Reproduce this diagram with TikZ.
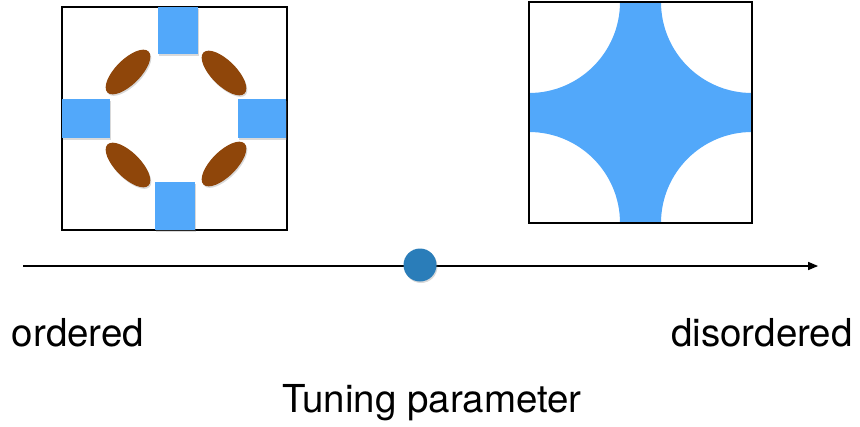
\documentclass[tikz,border=0pt]{standalone}
\usepackage{fontspec}
\setmainfont{TeX Gyre Heros}
\usepackage{tikz}
\usetikzlibrary{arrows,shapes.geometric,shadows}

\definecolor{siteblue}{RGB}{82,168,250}
\definecolor{lobebrown}{RGB}{143,70,10}
\definecolor{dotblue}{RGB}{42,125,185}

\begin{document}
\begin{tikzpicture}[x=1pt,y=-1pt,>=triangle 45,
  frame/.style={draw=black,line width=1.6pt},
  soft/.style={drop shadow={opacity=0.3,shadow xshift=1pt,shadow yshift=-1.5pt}},
  site/.style={rectangle,fill=siteblue,inner sep=0pt,soft},
  lobe/.style={ellipse,fill=lobebrown,inner sep=0pt,minimum width=58pt,minimum height=25pt,soft},
  label/.style={font=\fontsize{38.5}{40}\selectfont,anchor=base,inner sep=0pt}]
  \useasboundingbox (0,0) rectangle (860,426);

  % ordered phase: sites and orbitals around a plaquette
  \draw[frame] (62,7) rectangle (287,230);
  \node[site,minimum width=40pt,minimum height=47pt] (s_top) at (178,30.5) {};
  \node[site,minimum width=40pt,minimum height=48pt] (s_bot) at (175,206) {};
  \node[site,minimum width=48pt,minimum height=39pt] (s_left) at (86,118.5) {};
  \node[site,minimum width=48pt,minimum height=39pt] (s_right) at (262,118.5) {};
  \node[lobe,rotate=45] (o_ul) at (128,72) {};
  \node[lobe,rotate=-45] (o_ur) at (224,73) {};
  \node[lobe,rotate=-45] (o_ll) at (128,165) {};
  \node[lobe,rotate=45] (o_lr) at (224,164) {};

  % disordered phase: the box with its corners cut out
  \begin{scope}
    \clip (529,2) rectangle (752,223);
    \fill[siteblue,even odd rule] (529,2) rectangle (752,223)
      (529,2) circle (91) (752,2) circle (91)
      (529,223) circle (91) (752,223) circle (91);
  \end{scope}
  \draw[frame] (529,2) rectangle (752,223);

  % tuning axis
  \coordinate (ax_start) at (23,266);
  \coordinate (ax_end) at (818,266);
  \draw[->,line width=1.3pt] (ax_start) -- (ax_end);
  \node[circle,fill=dotblue,minimum size=33pt,inner sep=0pt,soft] (point) at (420,265) {};

  \node[label] (ordered) at (78,346) {ordered};
  \node[label] (disordered) at (762,346) {disordered};
  \node[label] (tuning) at (432,412) {Tuning parameter};
\end{tikzpicture}
\end{document}
